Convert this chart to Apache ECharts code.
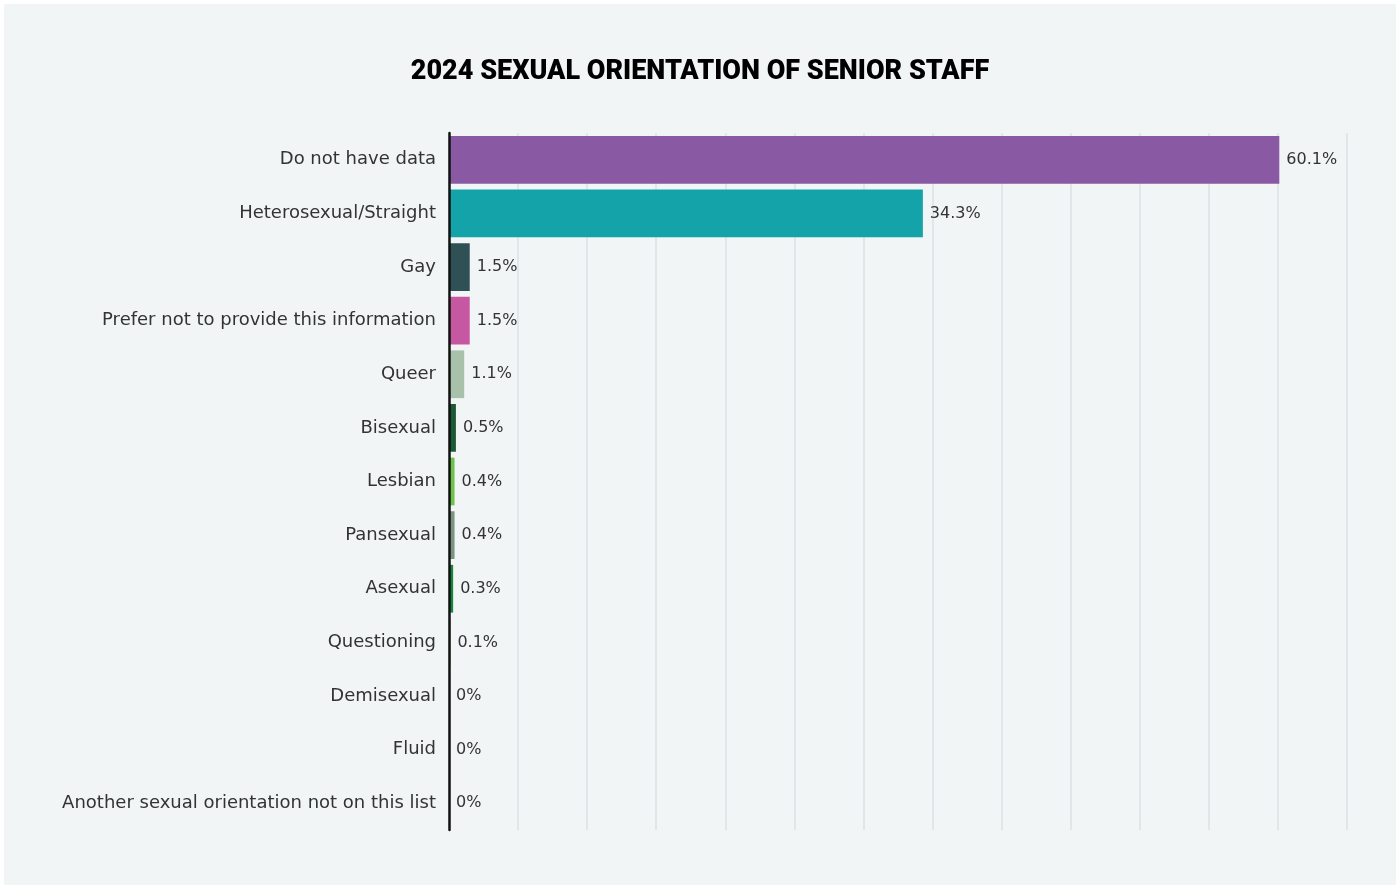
<!DOCTYPE html>
<html>
<head>
<meta charset="utf-8">
<script src="https://cdn.jsdelivr.net/npm/echarts@6/dist/echarts.min.js"></script>
<style>
  html, body { margin: 0; padding: 0; background: #ffffff; }
  #chart { position: absolute; left: 4px; top: 4px; width: 1392px; height: 881px; background: #f1f5f6; }
</style>
</head>
<body>
<div id="chart"></div>
<script>
// Senior staff by sexual orientation, 2024 (percent of respondents)
const categories = [
  'Do not have data',
  'Heterosexual/Straight',
  'Gay',
  'Prefer not to provide this information',
  'Queer',
  'Bisexual',
  'Lesbian',
  'Pansexual',
  'Asexual',
  'Questioning',
  'Demisexual',
  'Fluid',
  'Another sexual orientation not on this list'
];
const values = [60.1, 34.3, 1.5, 1.5, 1.1, 0.5, 0.4, 0.4, 0.3, 0.1, 0, 0, 0];
const barColors = [
  '#8959a3', '#13a3a8', '#2f5055', '#c558a1', '#a8c1ab', '#1c5a33',
  '#6dc24b', '#7b9380', '#17843f', '#b8c93a', '#888888', '#888888', '#888888'
];
const xMin = 0, xMax = 65, xStep = 5;

const labelFont = '"DejaVu Sans", "Noto Sans", sans-serif';

const chart = echarts.init(document.getElementById('chart'), null, { renderer: 'canvas' });
chart.setOption({
  backgroundColor: '#f1f5f6',
  animation: false,
  title: {
    text: '2024 SEXUAL ORIENTATION OF SENIOR STAFF',
    left: 'center',
    top: 50,
    textStyle: {
      fontFamily: 'Roboto, "Liberation Sans", sans-serif',
      fontWeight: 900,
      fontSize: 27,
      color: '#000000'
    }
  },
  grid: { left: 445, right: 49, top: 129, height: 697, containLabel: false },
  xAxis: {
    type: 'value',
    min: xMin, max: xMax, interval: xStep,
    axisLabel: { show: false },
    axisTick: { show: false },
    axisLine: { show: false },
    splitLine: { show: true, lineStyle: { color: '#e1e6e8', width: 2 } }
  },
  yAxis: {
    type: 'category',
    data: categories,
    inverse: true,
    axisTick: { show: false },
    axisLine: { show: true, lineStyle: { color: '#111111', width: 2.5 } },
    axisLabel: {
      margin: 13,
      padding: [3, 0, 0, 0],
      fontFamily: labelFont,
      fontSize: 18,
      color: '#333333'
    },
    z: 5
  },
  series: [{
    type: 'bar',
    data: values.map((v, i) => ({ value: v, itemStyle: { color: barColors[i] } })),
    barCategoryGap: '11%',
    label: {
      show: true,
      position: 'right',
      distance: 7,
      formatter: p => p.value + '%',
      fontFamily: labelFont,
      fontSize: 16,
      color: '#333333'
    }
  }]
});
</script>
</body>
</html>
